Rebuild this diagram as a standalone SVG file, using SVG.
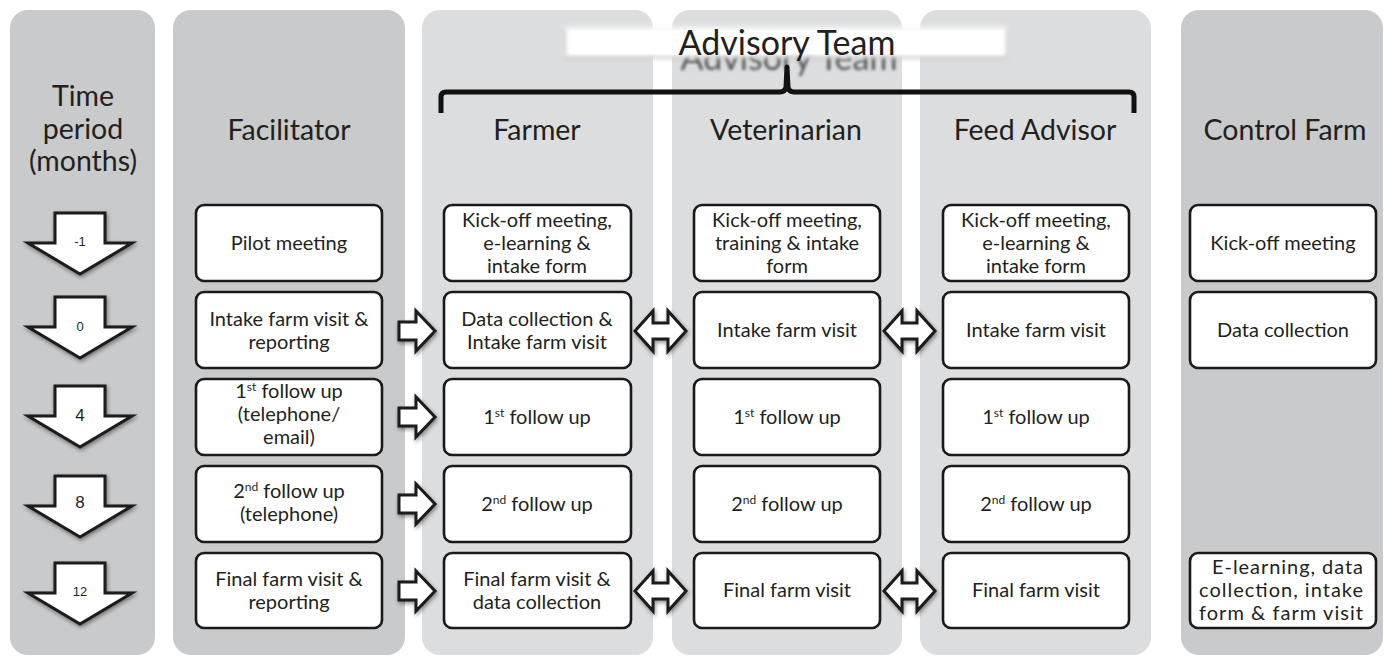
<svg xmlns="http://www.w3.org/2000/svg" width="1386" height="658" viewBox="0 0 1386 658">
  <defs>
    <style>
      .panel-dark { fill: #c9cacc; }
      .panel-light { fill: #dcdddf; }
      .hdr { font-family: Lato, "Open Sans", sans-serif; font-size: 28.5px; fill: #231f20; text-anchor: middle; }
      .box rect { fill: #ffffff; stroke: #1a1a1a; stroke-width: 2.6; }
      .box text { font-family: Lato, "Open Sans", sans-serif; font-size: 20px; fill: #231f20; text-anchor: middle; }
      .sup { font-size: 12px; }
      .arrow { fill: #ffffff; stroke: #1a1a1a; stroke-width: 3; stroke-linejoin: miter; filter: url(#shadow); }
      .num { font-family: "Liberation Sans", Arial, sans-serif; fill: #231f20; text-anchor: middle; }
    </style>
    <filter id="shadow" x="-30%" y="-30%" width="160%" height="170%">
      <feGaussianBlur in="SourceAlpha" stdDeviation="2"/>
      <feOffset dx="1" dy="2" result="b"/>
      <feComponentTransfer><feFuncA type="linear" slope="0.45"/></feComponentTransfer>
      <feMerge><feMergeNode/><feMergeNode in="SourceGraphic"/></feMerge>
    </filter>
    <filter id="soft" x="-10%" y="-60%" width="120%" height="220%">
      <feGaussianBlur stdDeviation="2.5"/>
    </filter>
    <filter id="ghost" x="-10%" y="-60%" width="120%" height="220%">
      <feGaussianBlur stdDeviation="1.6"/>
    </filter>
    <!-- block arrows, drawn around their own origin -->
    <polygon id="down" points="-25,0 25,0 25,30 52,30 0,61 -52,30 -25,30 -25,0"/>
    <polygon id="right" points="0,-9 17,-9 17,-20 36,0 17,20 17,9 0,9 0,-9"/>
    <polygon id="both" points="0,0 18,-20 18,-8 33,-8 33,-20 51,0 33,20 33,8 18,8 18,20 0,0"/>
  </defs>

  <!-- column panels -->
  <g id="panels">
    <rect class="panel-dark" x="10" y="10" width="145" height="645" rx="18"/>
    <rect class="panel-dark" x="173" y="10" width="232" height="645" rx="18"/>
    <rect class="panel-light" x="422" y="10" width="231" height="645" rx="18"/>
    <rect class="panel-light" x="672" y="10" width="230" height="645" rx="18"/>
    <rect class="panel-light" x="920" y="10" width="231" height="645" rx="18"/>
    <rect class="panel-dark" x="1181" y="10" width="202" height="645" rx="18"/>
  </g>

  <!-- Advisory Team banner and brace -->
  <g id="advisory-team">
    <text x="789" y="70" font-family="Lato, 'Open Sans', sans-serif" font-size="34" fill="#555" text-anchor="middle" filter="url(#ghost)">Advisory Team</text>
    <rect x="565" y="30" width="442" height="28" fill="#9a9a9a" filter="url(#soft)" opacity="0.7"/>
    <rect x="565" y="27" width="442" height="30" fill="#ffffff" filter="url(#soft)"/>
    <rect x="570" y="30" width="432" height="24" fill="#ffffff"/>
    <text x="787" y="55" font-family="Lato, 'Open Sans', sans-serif" font-size="34" fill="#231f20" text-anchor="middle">Advisory Team</text>
    <path d="M441,113 L441,97 Q441,92 446,92 L780,92 Q785,92 786,87 L787,67 L788,87 Q789,92 794,92 L1129,92 Q1134,92 1134,97 L1134,113" fill="none" stroke="#111" stroke-width="5" stroke-linejoin="round"/>
  </g>

  <!-- column headers -->
  <g id="headers">
    <text class="hdr" x="83" y="106">Time</text>
    <text class="hdr" x="83" y="139">period</text>
    <text class="hdr" x="83" y="171">(months)</text>
    <text class="hdr" x="289" y="140">Facilitator</text>
    <text class="hdr" x="537" y="140">Farmer</text>
    <text class="hdr" x="786" y="140">Veterinarian</text>
    <text class="hdr" x="1035" y="140">Feed Advisor</text>
    <text class="hdr" x="1285" y="140">Control Farm</text>
  </g>

  <!-- time period arrows -->
  <g id="time-arrows">
    <g id="t-1"><use href="#down" class="arrow" x="80" y="213"/><text class="num" x="80" y="246" font-size="13">-1</text></g>
    <g id="t0"><use href="#down" class="arrow" x="80" y="297"/><text class="num" x="80" y="331" font-size="13">0</text></g>
    <g id="t4"><use href="#down" class="arrow" x="80" y="386"/><text class="num" x="80" y="421" font-size="17" font-family="Lato, sans-serif">4</text></g>
    <g id="t8"><use href="#down" class="arrow" x="80" y="476"/><text class="num" x="80" y="508" font-size="17" font-family="Lato, sans-serif">8</text></g>
    <g id="t12"><use href="#down" class="arrow" x="80" y="563"/><text class="num" x="80" y="596" font-size="13">12</text></g>
  </g>

  <!-- Facilitator -->
  <g id="fac-pilot" class="box"><rect x="196" y="205" width="186" height="76" rx="8"/><text x="289" y="250">Pilot meeting</text></g>
  <g id="fac-intake" class="box"><rect x="196" y="292" width="186" height="76" rx="8"/><text x="289" y="326">Intake farm visit &amp;</text><text x="289" y="349">reporting</text></g>
  <g id="fac-fu1" class="box"><rect x="196" y="379" width="186" height="76" rx="8"/><text x="289" y="398">1<tspan class="sup" dy="-7">st</tspan><tspan dy="7"> follow up</tspan></text><text x="289" y="421">(telephone/</text><text x="289" y="444">email)</text></g>
  <g id="fac-fu2" class="box"><rect x="196" y="466" width="186" height="76" rx="8"/><text x="289" y="498">2<tspan class="sup" dy="-7">nd</tspan><tspan dy="7"> follow up</tspan></text><text x="289" y="521">(telephone)</text></g>
  <g id="fac-final" class="box"><rect x="196" y="553" width="186" height="75" rx="8"/><text x="289" y="586">Final farm visit &amp;</text><text x="289" y="609">reporting</text></g>

  <!-- Farmer -->
  <g id="farmer-kickoff" class="box"><rect x="444" y="205" width="187" height="76" rx="8"/><text x="537" y="227">Kick-off meeting,</text><text x="537" y="250">e-learning &amp;</text><text x="537" y="273">intake form</text></g>
  <g id="farmer-intake" class="box"><rect x="444" y="292" width="187" height="76" rx="8"/><text x="537" y="326">Data collection &amp;</text><text x="537" y="349">Intake farm visit</text></g>
  <g id="farmer-fu1" class="box"><rect x="444" y="379" width="187" height="76" rx="8"/><text x="537" y="424">1<tspan class="sup" dy="-7">st</tspan><tspan dy="7"> follow up</tspan></text></g>
  <g id="farmer-fu2" class="box"><rect x="444" y="466" width="187" height="76" rx="8"/><text x="537" y="511">2<tspan class="sup" dy="-7">nd</tspan><tspan dy="7"> follow up</tspan></text></g>
  <g id="farmer-final" class="box"><rect x="444" y="553" width="187" height="75" rx="8"/><text x="537" y="586">Final farm visit &amp;</text><text x="537" y="609">data collection</text></g>

  <!-- Veterinarian -->
  <g id="vet-kickoff" class="box"><rect x="694" y="205" width="186" height="76" rx="8"/><text x="787" y="227">Kick-off meeting,</text><text x="787" y="250">training &amp; intake</text><text x="787" y="273">form</text></g>
  <g id="vet-intake" class="box"><rect x="694" y="292" width="186" height="76" rx="8"/><text x="787" y="337">Intake farm visit</text></g>
  <g id="vet-fu1" class="box"><rect x="694" y="379" width="186" height="76" rx="8"/><text x="787" y="424">1<tspan class="sup" dy="-7">st</tspan><tspan dy="7"> follow up</tspan></text></g>
  <g id="vet-fu2" class="box"><rect x="694" y="466" width="186" height="76" rx="8"/><text x="787" y="511">2<tspan class="sup" dy="-7">nd</tspan><tspan dy="7"> follow up</tspan></text></g>
  <g id="vet-final" class="box"><rect x="694" y="553" width="186" height="75" rx="8"/><text x="787" y="597">Final farm visit</text></g>

  <!-- Feed Advisor -->
  <g id="feed-kickoff" class="box"><rect x="943" y="205" width="186" height="76" rx="8"/><text x="1036" y="227">Kick-off meeting,</text><text x="1036" y="250">e-learning &amp;</text><text x="1036" y="273">intake form</text></g>
  <g id="feed-intake" class="box"><rect x="943" y="292" width="186" height="76" rx="8"/><text x="1036" y="337">Intake farm visit</text></g>
  <g id="feed-fu1" class="box"><rect x="943" y="379" width="186" height="76" rx="8"/><text x="1036" y="424">1<tspan class="sup" dy="-7">st</tspan><tspan dy="7"> follow up</tspan></text></g>
  <g id="feed-fu2" class="box"><rect x="943" y="466" width="186" height="76" rx="8"/><text x="1036" y="511">2<tspan class="sup" dy="-7">nd</tspan><tspan dy="7"> follow up</tspan></text></g>
  <g id="feed-final" class="box"><rect x="943" y="553" width="186" height="75" rx="8"/><text x="1036" y="597">Final farm visit</text></g>

  <!-- Control Farm -->
  <g id="ctrl-kickoff" class="box"><rect x="1190" y="205" width="186" height="76" rx="8"/><text x="1283" y="250">Kick-off meeting</text></g>
  <g id="ctrl-data" class="box"><rect x="1190" y="292" width="186" height="76" rx="8"/><text x="1283" y="337">Data collection</text></g>
  <g id="ctrl-final" class="box"><rect x="1190" y="553" width="186" height="75" rx="8"/>
    <text x="1212" y="574" style="text-anchor:start" textLength="151" lengthAdjust="spacing">E-learning, data</text>
    <text x="1199" y="597" style="text-anchor:start" textLength="164" lengthAdjust="spacing">collection, intake</text>
    <text x="1199" y="620" style="text-anchor:start" textLength="164" lengthAdjust="spacing">form &amp; farm visit</text>
  </g>

  <!-- connectors -->
  <g id="connectors">
    <use href="#right" class="arrow" x="399" y="331"/>
    <use href="#right" class="arrow" x="399" y="417"/>
    <use href="#right" class="arrow" x="399" y="504"/>
    <use href="#right" class="arrow" x="399" y="591"/>
    <use href="#both" class="arrow" x="635" y="331"/>
    <use href="#both" class="arrow" x="884" y="331"/>
    <use href="#both" class="arrow" x="635" y="591"/>
    <use href="#both" class="arrow" x="884" y="591"/>
  </g>
</svg>
